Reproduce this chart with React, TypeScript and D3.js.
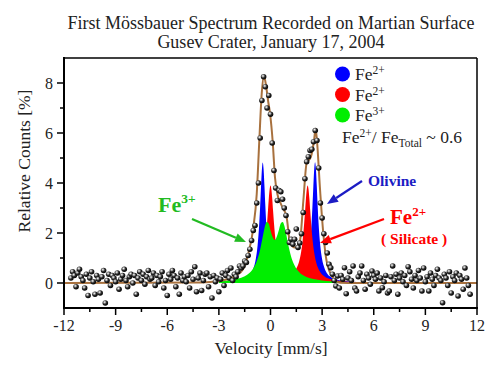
import React from "react";
import * as d3 from "d3";

// ---- Data ----
const xTicks = [-12, -9, -6, -3, 0, 3, 6, 9, 12];
const xMinor = [-10.5, -7.5, -4.5, -1.5, 1.5, 4.5, 7.5, 10.5];
const yTicks = [0, 2, 4, 6, 8];
const yMinor = [1, 3, 5, 7];

// measured points, velocity channels -11.6 ... 11.6 (step 0.1)
const counts = [
  0.2, 0.45, 0.3, -0.15, 0.4, 0.55, 0.25,
  0.1, -0.2, 0.35, -0.5, 0.2, 0.45, 0.05, -0.45, 0.3, 0.15,
  -0.4, 0.25, 0.5, -0.8, 0.1, 0.35, -0.1, 0.3, 0.2, 0.05,
  0.4, -0.25, 0.15, 0.3, 0.55, 0.1, -0.15, 0.25, 0.35, 0.0,
  0.3, -0.45, 0.2, 0.45, 0.1, 0.35, -0.05, 0.25, 0.5, 0.15,
  0.2, 0.4, -0.1, 0.3, 0.05, 0.25, 0.45, -0.2, 0.1, -0.5,
  0.35, 0.15, 0.5, 0.3, -0.15, 0.2, -0.45, 0.4, 0.1, 0.25,
  0.05, 0.3, -0.2, 0.45, 0.15, 0.65, -0.35, 0.2, 0.4, -0.3,
  0.1, 0.35, 0.4, -0.15, 0.25, -0.6, 0.3, 0.05, 0.2, -0.35,
  0.15, 0.4, -0.1, 0.3, 0.5, 0.2, 0.6, 0.1, 0.35, 0.25,
  0.45, 0.68, 0.6, 0.68, 0.88, 0.82, 1.1, 1.35, 1.7, 2.1,
  2.3, 3.2, 4.0, 5.8, 7.3, 8.25, 7.85, 7.0, 7.5, 6.75,
  5.6, 4.5, 3.8, 3.3, 3.7, 3.65, 3.35, 3.0, 2.7, 2.05,
  1.62, 1.75, 1.55, 1.75, 2.16, 1.42, 1.6, 1.97, 2.82, 4.17,
  4.85, 5.05, 5.3, 5.35, 5.65, 6.1, 5.7, 4.6, 3.2, 2.6,
  1.97, 1.62, 1.2, 0.75, 0.61, 0.35, 0.1, -0.12, 0.28, -0.2,
  0.3, 0.15, 0.61, -0.43, 0.2, 0.45, 0.1, 0.68, -0.2, -0.32,
  0.25, 0.4, 0.68, 0.1, -0.25, 0.35, 0.2, -0.05, 0.48, 0.3,
  0.15, 0.4, -0.32, 0.2, -0.19, 0.05, 0.3, -0.4, -0.32, 0.25,
  0.68, 0.1, 0.35, -0.45, 0.2, 0.4, 0.05, 0.3, -0.1, 0.65,
  0.45, 0.15, -0.2, 0.3, 0.1, 0.5, 0.2, -0.32, 0.6, 0.05,
  0.25, -0.32, 0.4, 0.15, -0.1, 0.3, 0.55, 0.2, 0.1, -0.79,
  0.35, 0.2, -0.1, 0.45, -0.4, 0.25, 0.1, 0.4, -0.52, 0.3,
  0.15, -0.25, 0.6, 0.2, -0.1, -0.45,
];
const velocity = counts.map((_, i) => +(-11.6 + i * 0.1).toFixed(1));

// Fe2+ olivine doublet (blue)
const blueV = [-3.0, -2.0, -1.5, -1.2, -1.0, -0.85, -0.75, -0.65, -0.6, -0.55, -0.5, -0.45, -0.4, -0.35, -0.3, -0.25, -0.15, -0.05, 0.1, 0.3, 0.6, 1.0, 1.4, 1.7, 1.9, 2.09, 2.19, 2.29, 2.39, 2.44, 2.49, 2.54, 2.59, 2.64, 2.69, 2.74, 2.79, 2.89, 2.99, 3.14, 3.29, 3.5, 3.8, 4.2, 5.0];
const blueY = [0.03, 0.09, 0.18, 0.33, 0.57, 0.98, 1.5, 2.42, 3.09, 3.86, 4.54, 4.82, 4.54, 3.86, 3.09, 2.42, 1.51, 0.99, 0.59, 0.36, 0.22, 0.16, 0.19, 0.27, 0.41, 0.69, 0.99, 1.51, 2.43, 3.1, 3.87, 4.55, 4.83, 4.55, 3.87, 3.1, 2.43, 1.51, 0.99, 0.59, 0.38, 0.24, 0.15, 0.09, 0.04];
// Fe2+ silicate doublet (red)
const redV = [-3, -2, -1.5, -1.2, -1.0, -0.8, -0.6, -0.5, -0.4, -0.3, -0.2, -0.15, -0.1, -0.05, 0, 0.05, 0.1, 0.15, 0.2, 0.3, 0.4, 0.5, 0.7, 1.0, 1.3, 1.5, 1.66, 1.76, 1.86, 1.96, 2.01, 2.06, 2.11, 2.16, 2.21, 2.26, 2.31, 2.36, 2.46, 2.56, 2.66, 2.86, 3.16, 3.5, 4.0, 5.0];
const redY = [0.04, 0.07, 0.12, 0.18, 0.25, 0.37, 0.6, 0.8, 1.12, 1.62, 2.39, 2.87, 3.37, 3.75, 3.9, 3.75, 3.38, 2.89, 2.41, 1.65, 1.15, 0.85, 0.55, 0.4, 0.44, 0.58, 0.85, 1.16, 1.65, 2.42, 2.89, 3.38, 3.76, 3.9, 3.75, 3.37, 2.88, 2.4, 1.63, 1.13, 0.81, 0.47, 0.25, 0.15, 0.085, 0.04];
// Fe3+ doublet (green)
const greenV = [-3, -2.5, -2, -1.6, -1.3, -1.0, -0.8, -0.6, -0.4, -0.3, -0.22, -0.1, 0, 0.1, 0.25, 0.4, 0.5, 0.6, 0.71, 0.8, 0.9, 1.0, 1.2, 1.4, 1.7, 2.0, 2.5, 3.0, 3.5, 4.0, 5.0];
const greenY = [0.07, 0.1, 0.16, 0.24, 0.36, 0.59, 0.87, 1.34, 2.03, 2.33, 2.44, 2.37, 2.1, 1.88, 1.72, 1.92, 2.15, 2.39, 2.44, 2.3, 2.0, 1.64, 1.05, 0.7, 0.41, 0.27, 0.16, 0.1, 0.07, 0.05, 0.03];
// total fit (brown line)
const fitV = [-12, -4.0, -3.0, -2.5, -2.0, -1.6, -1.3, -1.0, -0.8, -0.65, -0.51, -0.38, -0.26, -0.13, -0.03, 0.13, 0.26, 0.4, 0.6, 0.94, 1.13, 1.42, 1.71, 1.91, 2.1, 2.34, 2.53, 2.62, 2.7, 2.87, 3.07, 3.26, 3.63, 4.04, 5.0, 12];
const fitY = [0, 0.02, 0.08, 0.15, 0.3, 0.55, 1.15, 2.2, 3.56, 5.7, 7.58, 8.27, 7.9, 7.24, 6.8, 5.63, 4.23, 3.56, 3.17, 2.62, 1.62, 1.42, 1.69, 3.3, 4.8, 5.03, 5.7, 6.17, 5.7, 3.83, 1.97, 0.88, 0.21, 0.01, 0, 0];

const legendColors = ["#0000ff", "#ff0000", "#00ee00"];
const legendLabels = [["Fe", "2+"], ["Fe", "2+"], ["Fe", "3+"]];

const FONT = "Liberation Serif, DejaVu Serif, serif";

function Arrow({ x1, y1, x2, y2, color }: { x1: number; y1: number; x2: number; y2: number; color: string }) {
  const ang = Math.atan2(y2 - y1, x2 - x1);
  const L = 11, W = 4.5;
  const bx = x2 - L * Math.cos(ang), by = y2 - L * Math.sin(ang);
  const px = -Math.sin(ang) * W, py = Math.cos(ang) * W;
  return (
    <g>
      <line x1={x1} y1={y1} x2={bx} y2={by} stroke={color} strokeWidth={2.2} />
      <polygon points={`${x2},${y2} ${bx + px},${by + py} ${bx - px},${by - py}`} fill={color} />
    </g>
  );
}

export default function App() {
  const W = 500, H = 375;
  const x = d3.scaleLinear().domain([-12, 12]).range([64, 477]);
  const y = d3.scaleLinear().domain([-1, 9]).range([308, 58]);

  const area = d3
    .area<[number, number]>()
    .x((d) => x(d[0]))
    .y0(y(0))
    .y1((d) => y(d[1]))
    .curve(d3.curveMonotoneX);
  const line = d3
    .line<[number, number]>()
    .x((d) => x(d[0]))
    .y((d) => y(d[1]))
    .curve(d3.curveMonotoneX);

  const zip = (a: number[], b: number[]) => a.map((v, i) => [v, b[i]] as [number, number]);

  return (
    <svg width={W} height={H} style={{ position: "absolute", left: 0, top: 0, background: "#fff", fontFamily: FONT }}>
      <defs>
        <radialGradient id="ball" cx="38%" cy="35%" r="65%">
          <stop offset="0%" stopColor="#ffffff" />
          <stop offset="22%" stopColor="#b0b0b0" />
          <stop offset="55%" stopColor="#2a2a2a" />
          <stop offset="100%" stopColor="#000000" />
        </radialGradient>
        <clipPath id="plot">
          <rect x={64} y={58} width={413} height={250} />
        </clipPath>
      </defs>

      {/* Title */}
      <text x={271} y={29} textAnchor="middle" fontSize={18} fill="#222" fontFamily={FONT}>
        First Mössbauer Spectrum Recorded on Martian Surface
      </text>
      <text x={271} y={48} textAnchor="middle" fontSize={18} fill="#222" fontFamily={FONT}>
        Gusev Crater, January 17, 2004
      </text>

      {/* components */}
      <g clipPath="url(#plot)">
        <path d={area(zip(blueV, blueY)) || ""} fill="#0000ff" />
        <path d={area(zip(redV, redY)) || ""} fill="#ff0000" />
        <path d={area(zip(greenV, greenY)) || ""} fill="#00ee00" />
        <path d={line(zip(fitV, fitY)) || ""} fill="none" stroke="#a8713e" strokeWidth={2} />
        {counts.map((c, i) => (
          <circle key={i} cx={x(velocity[i])} cy={y(c)} r={2.8} fill="url(#ball)" />
        ))}
      </g>

      {/* frame */}
      <line x1={64} y1={58} x2={477} y2={58} stroke="#000" strokeWidth={1.5} />
      <line x1={477} y1={58} x2={477} y2={308} stroke="#000" strokeWidth={1.5} />
      <line x1={64} y1={57} x2={64} y2={309} stroke="#000" strokeWidth={2} />
      <line x1={63} y1={308} x2={478} y2={308} stroke="#000" strokeWidth={2} />

      {/* x ticks */}
      {xTicks.map((t) => (
        <g key={"xt" + t}>
          <line x1={x(t)} x2={x(t)} y1={308} y2={315} stroke="#000" strokeWidth={1.5} />
          <text x={x(t)} y={331} textAnchor="middle" fontSize={16} fill="#222" fontFamily={FONT}>
            {t}
          </text>
        </g>
      ))}
      {xMinor.map((t) => (
        <line key={"xm" + t} x1={x(t)} x2={x(t)} y1={308} y2={312} stroke="#000" strokeWidth={1.5} />
      ))}
      {/* y ticks */}
      {yTicks.map((t) => (
        <g key={"yt" + t}>
          <line x1={57} x2={64} y1={y(t)} y2={y(t)} stroke="#000" strokeWidth={1.5} />
          <text x={53} y={y(t) + 5.5} textAnchor="end" fontSize={16} fill="#222" fontFamily={FONT}>
            {t}
          </text>
        </g>
      ))}
      {yMinor.map((t) => (
        <line key={"ym" + t} x1={60} x2={64} y1={y(t)} y2={y(t)} stroke="#000" strokeWidth={1.5} />
      ))}

      {/* axis labels */}
      <text x={271} y={354} textAnchor="middle" fontSize={17.5} fill="#222" fontFamily={FONT}>
        Velocity [mm/s]
      </text>
      <text transform="translate(30,161) rotate(-90)" textAnchor="middle" fontSize={17.5} fill="#222" fontFamily={FONT}>
        Relative Counts [%]
      </text>

      {/* legend */}
      {legendColors.map((c, i) => (
        <g key={"lg" + i}>
          <circle cx={342.5} cy={74 + i * 20.5} r={7.5} fill={c} />
          <text x={355} y={80 + i * 20.5} fontSize={17.5} fill="#222" fontFamily={FONT}>
            {legendLabels[i][0]}
            <tspan dy={-6} fontSize={11.5}>
              {legendLabels[i][1]}
            </tspan>
          </text>
        </g>
      ))}
      <text x={342} y={143} fontSize={17.5} fill="#222" fontFamily={FONT}>
        Fe
        <tspan dy={-6} fontSize={11.5}>2+</tspan>
        <tspan dy={6}>/ Fe</tspan>
        <tspan dy={4} fontSize={11.5}>Total</tspan>
        <tspan dy={-4}> ~ 0.6</tspan>
      </text>

      {/* annotations */}
      <text x={368} y={186} fontSize={15.5} fontWeight="bold" fill="#1c1cc4" fontFamily={FONT}>
        Olivine
      </text>
      <Arrow x1={362} y1={181} x2={327} y2={204} color="#1c1cc4" />

      <text x={390} y={224} fontSize={21} fontWeight="bold" fill="#ff0000" fontFamily={FONT}>
        Fe
        <tspan dy={-8} fontSize={13}>2+</tspan>
      </text>
      <text x={381} y={244} fontSize={15.5} fontWeight="bold" fill="#ff0000" fontFamily={FONT}>
        ( Silicate )
      </text>
      <Arrow x1={384} y1={219} x2={320} y2={243} color="#ff0000" />

      <text x={158} y={212} fontSize={22} fontWeight="bold" fill="#22bb22" fontFamily={FONT}>
        Fe
        <tspan dy={-9} fontSize={13.5}>3+</tspan>
      </text>
      <Arrow x1={192} y1={219} x2={246} y2={242} color="#22bb22" />
    </svg>
  );
}
